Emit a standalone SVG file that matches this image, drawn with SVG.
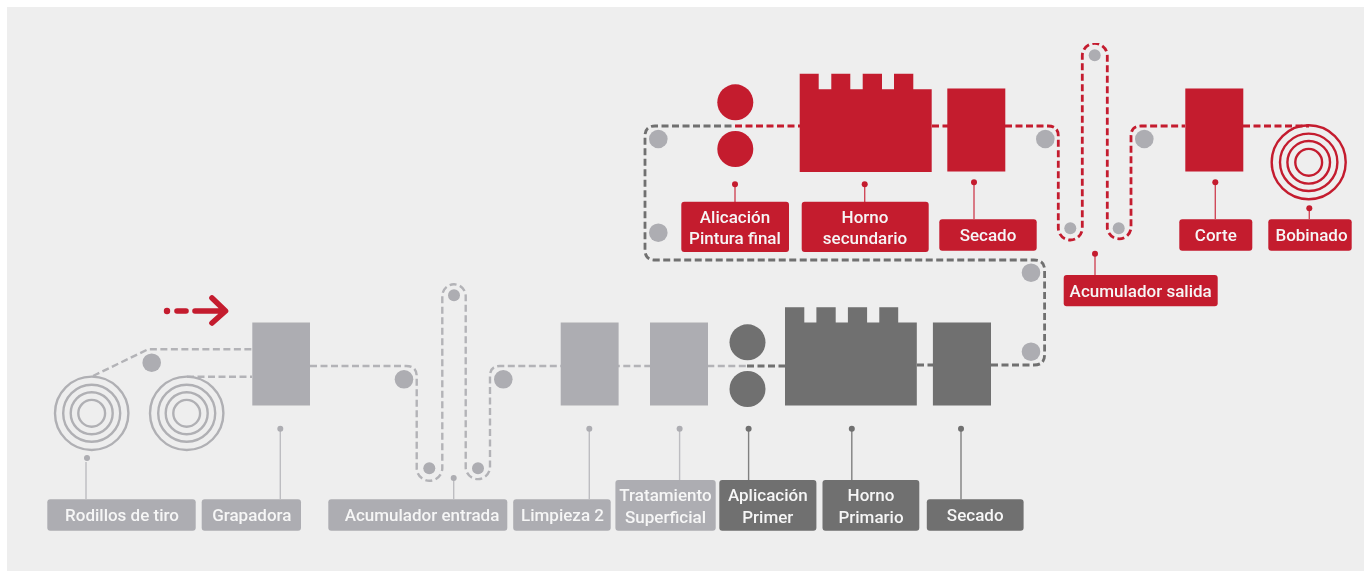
<svg xmlns="http://www.w3.org/2000/svg" width="1364" height="571" viewBox="0 0 1364 571">
<style>
.lg{fill:#adadb2}.dk{fill:#6f6f6f}.rd{fill:#c41b2f}
.t{font-family:"Roboto","Liberation Sans",sans-serif;font-size:17px;font-weight:500;fill:#f6f6f6;text-anchor:middle}
.lead{fill:none;stroke-width:1.4}
.slg{stroke:#bdbdc1}.sdk{stroke:#808080}.srd{stroke:#d0495a}
.coil{fill:none;stroke-width:2.4}
.cg{stroke:#b0b0b4}.cr{stroke:#c41b2f}
.d{fill:none;stroke-width:2.4;stroke-dasharray:7 3.5}
.dl{stroke:#b3b3b7}.dd{stroke:#6f6f6f;stroke-width:2.8}.dr{stroke:#c41b2f;stroke-width:2.8}
</style>
<defs><filter id="soft" x="0" y="0" width="1" height="1" filterUnits="objectBoundingBox"><feGaussianBlur stdDeviation="0.65"/></filter></defs>
<rect width="1364" height="571" fill="#ffffff"/>
<rect x="7" y="7" width="1357" height="564" fill="#eeeeee"/>
<g filter="url(#soft)">
<g id="connectors">
<path class="d dl" d="M93 376L148 349.3H252M187 376.7H252"/>
<path class="d dl" d="M310 366H406Q416.7 366 416.7 376V468A12.7 12.7 0 0 0 442.3 468V296A11.7 11.7 0 0 1 465.7 296V468A12.2 12.2 0 0 0 490 468V376Q490 366 500 366H747"/>
<path class="d dd" d="M747 366H785M917 365H933M991 365H1034Q1044.6 365 1044.6 355V270Q1044.6 260 1034 260H655Q645 260 645 250V136Q645 126 655 126H735"/>
<path class="d dr" d="M735 126H800M932 126H948M1005 126H1048Q1058.3 126 1058.3 136V228A12 12 0 0 0 1082.3 228V55.8A12.5 12.5 0 0 1 1107.3 55.8V228A11.9 11.9 0 0 0 1131 228V136Q1131 126 1141 126H1185M1243 126H1309"/>
<g class="lead slg"><path d="M86 462V499M280.3 431V499M453.7 480V499M589.3 431V499M679.6 431V480"/></g>
<g class="lead sdk"><path d="M748.6 431V480M851.8 431V480M961 431V499"/></g>
<g class="lead srd"><path d="M735 186V202M864.7 186V202M974 184V219M1095 256V275M1215.3 184V219M1309.3 210V219"/></g>
</g>
<g id="direction-arrow"><circle cx="167" cy="311" r="3.2" class="rd"/><path d="M177 311H186M195 311H224M212 298L225.5 311L212 323" fill="none" stroke="#c41b2f" stroke-width="5.6" stroke-linecap="round" stroke-linejoin="round"/></g>
<g id="rodillos-coil-1"><g class="coil cg"><circle cx="91.7" cy="413.3" r="36.7"/><circle cx="91.7" cy="413.3" r="28.5"/><circle cx="91.7" cy="413.3" r="21"/><circle cx="91.7" cy="413.3" r="13.4"/></g></g>
<g id="rodillos-coil-2"><g class="coil cg"><circle cx="186.7" cy="413.3" r="36.7"/><circle cx="186.7" cy="413.3" r="28.5"/><circle cx="186.7" cy="413.3" r="21"/><circle cx="186.7" cy="413.3" r="13.4"/></g></g>
<g id="guide-rollers" class="lg">
<circle cx="151.7" cy="362.7" r="9.3"/><circle cx="404" cy="379.3" r="9.3"/><circle cx="503.3" cy="379.3" r="9.3"/><circle cx="429.3" cy="468.3" r="6"/><circle cx="454" cy="295.3" r="6"/><circle cx="478" cy="468.3" r="6"/>
<circle cx="1031" cy="351.7" r="9.3"/><circle cx="1031" cy="272.7" r="9.3"/><circle cx="658.3" cy="232.7" r="9.3"/><circle cx="658.3" cy="139" r="9.3"/><circle cx="1045.3" cy="139" r="9.3"/><circle cx="1144.3" cy="139" r="9.3"/><circle cx="1070.3" cy="228.3" r="6"/><circle cx="1094.7" cy="55.3" r="6"/><circle cx="1118.7" cy="228.3" r="6"/>
</g>
<g id="rodillos"><circle cx="87" cy="458" r="3" class="lg"/><rect x="47.3" y="499.3" width="148.4" height="31.4" rx="3" class="lg"/><text class="t" x="122" y="521">Rodillos de tiro</text></g>
<g id="grapadora"><rect x="252.3" y="322.5" width="57.7" height="83" class="lg"/><circle cx="280.3" cy="428.7" r="3" class="lg"/><rect x="201.7" y="499.3" width="99.3" height="31.4" rx="3" class="lg"/><text class="t" x="251.8" y="521">Grapadora</text></g>
<g id="acumulador-entrada"><circle cx="453.7" cy="478" r="3" class="lg"/><rect x="328.3" y="499.3" width="179" height="31.4" rx="3" class="lg"/><text class="t" x="422" y="521">Acumulador entrada</text></g>
<g id="limpieza"><rect x="560.7" y="322.5" width="57.9" height="83" class="lg"/><circle cx="589.3" cy="428.7" r="3" class="lg"/><rect x="513.2" y="499.3" width="97.5" height="31.4" rx="3" class="lg"/><text class="t" x="562.5" y="521">Limpieza 2</text></g>
<g id="tratamiento"><rect x="650" y="322.5" width="58" height="83" class="lg"/><circle cx="679.6" cy="428.7" r="3" class="lg"/><rect x="615.4" y="480" width="100.3" height="50.7" rx="3" class="lg"/><text class="t" x="665.5" y="501">Tratamiento</text><text class="t" x="665.5" y="523">Superficial</text></g>
<g id="aplicacion-primer"><circle cx="747.5" cy="342.3" r="18" class="dk"/><circle cx="747.5" cy="389" r="18" class="dk"/><circle cx="748.6" cy="428.7" r="3" class="dk"/><rect x="719.3" y="480" width="97.1" height="50.7" rx="3" class="dk"/><text class="t" x="767.8" y="501">Aplicación</text><text class="t" x="767.8" y="523">Primer</text></g>
<g id="horno-primario"><path class="dk" d="M785 405.5V307.3H804.3V322.5H816.4V307.3H835.7V322.5H847.9V307.3H867.1V322.5H879.3V307.3H898.2V322.5H916.8V405.5Z"/><circle cx="851.8" cy="428.7" r="3" class="dk"/><rect x="822.5" y="480" width="96.8" height="50.7" rx="3" class="dk"/><text class="t" x="871" y="501">Horno</text><text class="t" x="871" y="523">Primario</text></g>
<g id="secado-primario"><rect x="932.9" y="322.5" width="58.1" height="83" class="dk"/><circle cx="961" cy="428.7" r="3" class="dk"/><rect x="926.8" y="499.3" width="96.8" height="31.4" rx="3" class="dk"/><text class="t" x="975.2" y="521">Secado</text></g>
<g id="aplicacion-final"><circle cx="735.3" cy="102.3" r="18" class="rd"/><circle cx="735.3" cy="149" r="18" class="rd"/><circle cx="735" cy="184.3" r="3" class="rd"/><rect x="681.3" y="201.7" width="107.7" height="50.3" rx="3" class="rd"/><text class="t" x="735" y="222.5">Alicación</text><text class="t" x="735" y="244">Pintura final</text></g>
<g id="horno-secundario"><path class="rd" d="M799.7 172V73.7H818.7V89.3H831.3V73.7H850.3V89.3H862.7V73.7H882V89.3H894V73.7H913.3V89.3H931.7V172Z"/><circle cx="864.7" cy="184.3" r="3" class="rd"/><rect x="801.7" y="201.7" width="127" height="50.3" rx="3" class="rd"/><text class="t" x="865" y="222.5">Horno</text><text class="t" x="865" y="244">secundario</text></g>
<g id="secado-final"><rect x="947.3" y="88.5" width="58" height="83" class="rd"/><circle cx="974" cy="182.3" r="3" class="rd"/><rect x="939.3" y="219.3" width="97.4" height="31.4" rx="3" class="rd"/><text class="t" x="988" y="241">Secado</text></g>
<g id="acumulador-salida"><circle cx="1095" cy="253.7" r="3" class="rd"/><rect x="1063.7" y="275" width="154" height="31.3" rx="3" class="rd"/><text class="t" x="1140.7" y="296.5">Acumulador salida</text></g>
<g id="corte"><rect x="1185.3" y="88.5" width="58" height="83" class="rd"/><circle cx="1215.3" cy="182.3" r="3" class="rd"/><rect x="1179.3" y="219.3" width="73" height="31.4" rx="3" class="rd"/><text class="t" x="1215.8" y="241">Corte</text></g>
<g id="bobinado"><g class="coil cr"><circle cx="1308.7" cy="162.3" r="37"/><circle cx="1308.7" cy="162.3" r="28.7"/><circle cx="1308.7" cy="162.3" r="21.3"/><circle cx="1308.7" cy="162.3" r="13.4"/></g><circle cx="1309.3" cy="208.3" r="3" class="rd"/><rect x="1268.3" y="219.3" width="83.4" height="31.4" rx="3" class="rd"/><text class="t" x="1311.5" y="241">Bobinado</text></g>
</g>
</svg>
